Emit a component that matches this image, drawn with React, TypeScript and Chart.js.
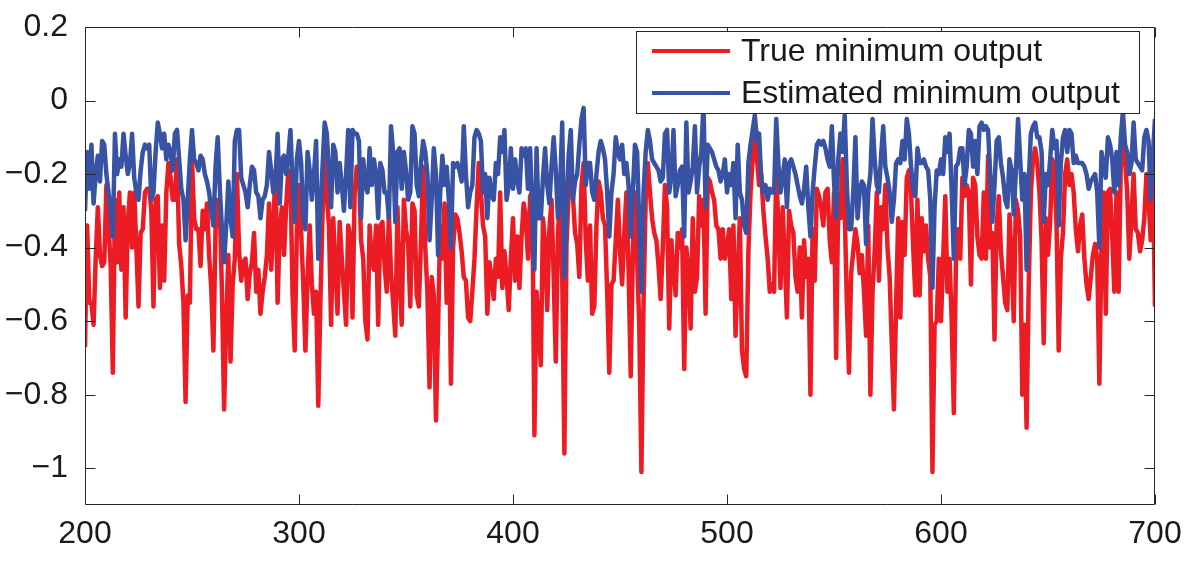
import React, { useEffect, useRef } from 'react';
import { Chart, registerables } from 'chart.js';

Chart.register(...registerables);

const X_START = 200;
const xTicks = [200, 300, 400, 500, 600, 700];
const yTicks = [-1, -0.8, -0.6, -0.4, -0.2, 0, 0.2];
const seriesLabels = ['True minimum output', 'Estimated minimum output'];
const seriesColors = ['#EC1C24', '#3953A4'];

// True minimum output, x = 200 ... 700
const trueMin = [
  -0.67, -0.34, -0.55, -0.55, -0.61, -0.43, -0.29, -0.42, -0.45, -0.44,
  -0.23, -0.34, -0.45, -0.74, -0.27, -0.44, -0.25, -0.46, -0.29, -0.59,
  -0.33, -0.25, -0.40, -0.25, -0.40, -0.56, -0.36, -0.35, -0.25, -0.24,
  -0.24, -0.30, -0.56, -0.27, -0.26, -0.51, -0.34, -0.49, -0.25, -0.17,
  -0.21, -0.27, -0.27, -0.16, -0.39, -0.45, -0.55, -0.82, -0.53, -0.55,
  -0.16, -0.32, -0.35, -0.35, -0.45, -0.30, -0.35, -0.28, -0.42, -0.51,
  -0.68, -0.35, -0.27, -0.30, -0.52, -0.84, -0.60, -0.42, -0.71, -0.50,
  -0.43, -0.20, -0.41, -0.49, -0.44, -0.43, -0.54, -0.47, -0.44, -0.36,
  -0.52, -0.46, -0.58, -0.52, -0.48, -0.42, -0.28, -0.46, -0.34, -0.19,
  -0.55, -0.35, -0.29, -0.42, -0.29, -0.19, -0.20, -0.53, -0.68, -0.35,
  -0.23, -0.36, -0.50, -0.68, -0.48, -0.34, -0.50, -0.58, -0.52, -0.83,
  -0.55, -0.31, -0.12, -0.26, -0.34, -0.61, -0.32, -0.45, -0.58, -0.33,
  -0.43, -0.52, -0.61, -0.34, -0.37, -0.59, -0.25, -0.18, -0.19, -0.38,
  -0.43, -0.60, -0.65, -0.34, -0.43, -0.46, -0.34, -0.61, -0.34, -0.33,
  -0.45, -0.52, -0.31, -0.47, -0.55, -0.64, -0.29, -0.48, -0.61, -0.27,
  -0.35, -0.39, -0.56, -0.28, -0.30, -0.53, -0.56, -0.38, -0.18, -0.40,
  -0.52, -0.78, -0.48, -0.53, -0.87, -0.61, -0.34, -0.43, -0.28, -0.55,
  -0.29, -0.77, -0.40, -0.31, -0.32, -0.36, -0.41, -0.48, -0.49, -0.59,
  -0.60, -0.52, -0.43, -0.29, -0.17, -0.25, -0.34, -0.37, -0.58, -0.44,
  -0.48, -0.54, -0.43, -0.48, -0.25, -0.51, -0.41, -0.48, -0.57, -0.43,
  -0.32, -0.49, -0.37, -0.51, -0.37, -0.28, -0.32, -0.43, -0.26, -0.25,
  -0.91, -0.52, -0.61, -0.72, -0.32, -0.39, -0.57, -0.35, -0.27, -0.48,
  -0.71, -0.36, -0.27, -0.48, -0.96, -0.39, -0.25, -0.16, -0.26, -0.36,
  -0.39, -0.48, -0.23, -0.17, -0.38, -0.49, -0.34, -0.58, -0.56, -0.34,
  -0.22, -0.25, -0.32, -0.34, -0.52, -0.74, -0.50, -0.49, -0.38, -0.27,
  -0.41, -0.50, -0.36, -0.25, -0.46, -0.75, -0.41, -0.25, -0.43, -0.61,
  -1.01, -0.55, -0.27, -0.17, -0.25, -0.32, -0.36, -0.38, -0.45, -0.54,
  -0.40, -0.23, -0.29, -0.62, -0.38, -0.46, -0.53, -0.36, -0.40, -0.35,
  -0.73, -0.40, -0.46, -0.62, -0.32, -0.52, -0.48, -0.26, -0.34, -0.27,
  -0.58, -0.21, -0.22, -0.25, -0.27, -0.34, -0.35, -0.43, -0.35, -0.43,
  -0.40, -0.35, -0.54, -0.34, -0.64, -0.47, -0.32, -0.68, -0.73, -0.75,
  -0.41, -0.25, -0.16, -0.09, -0.16, -0.23, -0.20, -0.30, -0.37, -0.43,
  -0.52, -0.50, -0.52, -0.19, -0.34, -0.51, -0.29, -0.43, -0.59, -0.30,
  -0.34, -0.36, -0.48, -0.52, -0.40, -0.59, -0.38, -0.48, -0.43, -0.80,
  -0.35, -0.49, -0.24, -0.26, -0.29, -0.34, -0.25, -0.24, -0.38, -0.44,
  -0.25, -0.70, -0.26, -0.32, -0.16, -0.30, -0.55, -0.74, -0.47, -0.41,
  -0.35, -0.39, -0.47, -0.42, -0.52, -0.64, -0.34, -0.80, -0.52, -0.41,
  -0.25, -0.49, -0.29, -0.35, -0.23, -0.40, -0.48, -0.66, -0.84, -0.56,
  -0.32, -0.59, -0.33, -0.42, -0.21, -0.19, -0.25, -0.40, -0.53, -0.27,
  -0.53, -0.32, -0.41, -0.34, -0.43, -0.48, -1.01, -0.61, -0.60, -0.43,
  -0.60, -0.43, -0.26, -0.52, -0.43, -0.60, -0.85, -0.43, -0.35, -0.43,
  -0.21, -0.26, -0.23, -0.25, -0.50, -0.21, -0.23, -0.37, -0.42, -0.43,
  -0.25, -0.43, -0.15, -0.40, -0.36, -0.65, -0.34, -0.26, -0.41, -0.48,
  -0.55, -0.57, -0.31, -0.43, -0.60, -0.27, -0.30, -0.37, -0.80, -0.61,
  -0.89, -0.50, -0.25, -0.16, -0.13, -0.17, -0.25, -0.38, -0.66, -0.32,
  -0.42, -0.33, -0.16, -0.19, -0.34, -0.68, -0.43, -0.36, -0.20, -0.16,
  -0.23, -0.20, -0.25, -0.35, -0.41, -0.34, -0.31, -0.43, -0.50, -0.54,
  -0.48, -0.42, -0.39, -0.43, -0.77, -0.39, -0.25, -0.58, -0.25, -0.24,
  -0.37, -0.52, -0.25, -0.52, -0.18, -0.08, -0.16, -0.25, -0.43, -0.32,
  -0.20, -0.35, -0.36, -0.41, -0.38, -0.32, -0.20, -0.27, -0.38, -0.20,
  -0.56,
];

// Estimated minimum output, x = 200 ... 700
const estMin = [
  -0.30, -0.14, -0.24, -0.12, -0.28, -0.20, -0.15, -0.22, -0.11, -0.12,
  -0.20, -0.25, -0.30, -0.37, -0.09, -0.20, -0.16, -0.18, -0.09, -0.15,
  -0.20, -0.17, -0.09, -0.21, -0.25, -0.27, -0.19, -0.14, -0.12, -0.13,
  -0.12, -0.27, -0.25, -0.14, -0.06, -0.09, -0.13, -0.09, -0.16, -0.12,
  -0.14, -0.19, -0.09, -0.08, -0.16, -0.24, -0.27, -0.38, -0.27, -0.16,
  -0.08, -0.16, -0.17, -0.19, -0.15, -0.16, -0.20, -0.22, -0.25, -0.30,
  -0.34, -0.18, -0.10, -0.24, -0.35, -0.44, -0.34, -0.22, -0.32, -0.37,
  -0.11, -0.08, -0.08, -0.21, -0.23, -0.25, -0.29, -0.23, -0.18, -0.19,
  -0.25, -0.26, -0.32, -0.27, -0.26, -0.23, -0.14, -0.19, -0.25, -0.22,
  -0.09, -0.28, -0.16, -0.15, -0.20, -0.15, -0.08, -0.23, -0.33, -0.16,
  -0.11, -0.17, -0.32, -0.35, -0.14, -0.19, -0.27, -0.20, -0.11, -0.43,
  -0.30, -0.18, -0.06, -0.09, -0.20, -0.29, -0.12, -0.14, -0.25, -0.17,
  -0.23, -0.30, -0.20, -0.08, -0.29, -0.08, -0.09, -0.09, -0.11, -0.32,
  -0.16, -0.23, -0.25, -0.13, -0.23, -0.16, -0.20, -0.32, -0.17, -0.19,
  -0.25, -0.25, -0.32, -0.07, -0.14, -0.33, -0.14, -0.13, -0.24, -0.14,
  -0.19, -0.27, -0.25, -0.07, -0.09, -0.23, -0.26, -0.17, -0.11, -0.14,
  -0.20, -0.38, -0.27, -0.13, -0.20, -0.42, -0.25, -0.15, -0.23, -0.18,
  -0.27, -0.40, -0.17, -0.18, -0.17, -0.19, -0.22, -0.07, -0.20, -0.29,
  -0.25, -0.23, -0.10, -0.08, -0.09, -0.11, -0.25, -0.20, -0.32, -0.21,
  -0.26, -0.27, -0.17, -0.20, -0.10, -0.14, -0.08, -0.27, -0.23, -0.13,
  -0.24, -0.16, -0.22, -0.25, -0.13, -0.15, -0.13, -0.24, -0.13, -0.30,
  -0.46, -0.13, -0.32, -0.32, -0.21, -0.13, -0.23, -0.28, -0.18, -0.10,
  -0.19, -0.32, -0.24, -0.06, -0.48, -0.29, -0.15, -0.08, -0.27, -0.22,
  -0.20, -0.12, -0.05, -0.02, -0.23, -0.17, -0.17, -0.25, -0.27, -0.20,
  -0.14, -0.11, -0.13, -0.16, -0.25, -0.37, -0.25, -0.20, -0.10, -0.14,
  -0.16, -0.12, -0.20, -0.17, -0.23, -0.37, -0.25, -0.12, -0.14, -0.34,
  -0.52, -0.25, -0.14, -0.08, -0.11, -0.16, -0.17, -0.18, -0.19, -0.22,
  -0.21, -0.09, -0.08, -0.25, -0.21, -0.08, -0.26, -0.23, -0.19, -0.18,
  -0.37, -0.06, -0.25, -0.22, -0.18, -0.07, -0.25, -0.18, -0.14, -0.01,
  -0.29, -0.12, -0.13, -0.14, -0.16, -0.18, -0.19, -0.22, -0.20, -0.16,
  -0.25, -0.20, -0.23, -0.17, -0.32, -0.12, -0.25, -0.27, -0.34, -0.36,
  -0.17, -0.12, -0.08, -0.04, -0.11, -0.09, -0.21, -0.25, -0.23, -0.27,
  -0.24, -0.25, -0.25, -0.05, -0.17, -0.25, -0.21, -0.16, -0.29, -0.17,
  -0.16, -0.18, -0.20, -0.23, -0.26, -0.28, -0.24, -0.18, -0.29, -0.37,
  -0.25, -0.18, -0.12, -0.11, -0.12, -0.11, -0.13, -0.16, -0.18, -0.07,
  -0.22, -0.32, -0.16, -0.09, -0.14, -0.04, -0.23, -0.35, -0.35, -0.25,
  -0.10, -0.32, -0.25, -0.22, -0.23, -0.39, -0.25, -0.20, -0.05, -0.16,
  -0.23, -0.25, -0.15, -0.07, -0.18, -0.21, -0.25, -0.33, -0.27, -0.17,
  -0.16, -0.17, -0.11, -0.16, -0.05, -0.09, -0.18, -0.24, -0.26, -0.13,
  -0.17, -0.17, -0.16, -0.18, -0.19, -0.27, -0.51, -0.29, -0.19, -0.20,
  -0.16, -0.20, -0.10, -0.14, -0.09, -0.25, -0.43, -0.18, -0.17, -0.13,
  -0.13, -0.23, -0.18, -0.08, -0.09, -0.18, -0.11, -0.20, -0.07, -0.06,
  -0.08, -0.07, -0.08, -0.20, -0.33, -0.23, -0.11, -0.10, -0.17, -0.21,
  -0.27, -0.29, -0.16, -0.19, -0.31, -0.19, -0.05, -0.16, -0.27, -0.20,
  -0.46, -0.22, -0.09, -0.07, -0.06, -0.10, -0.10, -0.14, -0.33, -0.20,
  -0.23, -0.16, -0.08, -0.13, -0.11, -0.34, -0.17, -0.10, -0.08, -0.14,
  -0.08, -0.09, -0.17, -0.15, -0.17, -0.17, -0.17, -0.18, -0.20, -0.24,
  -0.22, -0.21, -0.20, -0.25, -0.40, -0.14, -0.18, -0.21, -0.10, -0.12,
  -0.16, -0.25, -0.14, -0.23, -0.10, -0.03, -0.12, -0.14, -0.20, -0.17,
  -0.06, -0.16, -0.17, -0.18, -0.19, -0.10, -0.08, -0.11, -0.27, -0.15,
  -0.05,
];

const FONT = '"Liberation Sans", Arial, Helvetica, sans-serif';
const AXIS_COLOR = '#262626';

const fmt = (v: number) => (v < 0 ? '\u2212' : '') + String(Math.abs(v));

const framePlugin = {
  id: 'matlabFrame',
  afterDraw(chart: any) {
    const { ctx, chartArea: a, scales } = chart;
    ctx.save();
    ctx.strokeStyle = AXIS_COLOR;
    ctx.lineWidth = 1;
    const L = Math.round(a.left) + 0.5;
    const R = Math.round(a.right) - 0.5;
    const T = Math.round(a.top) + 0.5;
    const B = Math.round(a.bottom) - 0.5;
    ctx.beginPath();
    ctx.rect(L, T, R - L, B - T);
    const tl = 10;
    xTicks.forEach((v) => {
      const px = Math.round(scales.x.getPixelForValue(v)) + 0.5;
      ctx.moveTo(px, B);
      ctx.lineTo(px, B - tl);
      ctx.moveTo(px, T);
      ctx.lineTo(px, T + tl);
    });
    yTicks.forEach((v) => {
      const py = Math.round(scales.y.getPixelForValue(v)) + 0.5;
      ctx.moveTo(L, py);
      ctx.lineTo(L + tl, py);
      ctx.moveTo(R, py);
      ctx.lineTo(R - tl, py);
    });
    ctx.stroke();

    // legend box
    const lx = 636.5, ly = 31.5, lw = 503, lh = 82;
    ctx.fillStyle = '#ffffff';
    ctx.fillRect(lx, ly, lw, lh);
    ctx.strokeStyle = AXIS_COLOR;
    ctx.strokeRect(lx, ly, lw, lh);
    const rows = [51, 93];
    ctx.font = `32px ${FONT}`;
    ctx.textBaseline = 'middle';
    ctx.textAlign = 'left';
    rows.forEach((ry, i) => {
      ctx.strokeStyle = seriesColors[i];
      ctx.lineWidth = 4;
      ctx.beginPath();
      ctx.moveTo(652, ry);
      ctx.lineTo(730, ry);
      ctx.stroke();
      ctx.fillStyle = '#1a1a1a';
      ctx.fillText(seriesLabels[i], 741, ry + 1);
    });
    ctx.restore();
  },
};

export default function App() {
  const ref = useRef<HTMLCanvasElement | null>(null);

  useEffect(() => {
    if (!ref.current) return;
    const toPts = (arr: number[]) => arr.map((y, i) => ({ x: X_START + i, y }));
    const chart = new Chart(ref.current, {
      type: 'line',
      data: {
        datasets: [
          {
            label: seriesLabels[0],
            data: toPts(trueMin),
            borderColor: seriesColors[0],
            backgroundColor: seriesColors[0],
            borderWidth: 4.5,
            pointRadius: 0,
            tension: 0,
            borderJoinStyle: 'round',
            order: 1,
          },
          {
            label: seriesLabels[1],
            data: toPts(estMin),
            borderColor: seriesColors[1],
            backgroundColor: seriesColors[1],
            borderWidth: 4.5,
            pointRadius: 0,
            tension: 0,
            borderJoinStyle: 'round',
            order: 0,
          },
        ],
      },
      options: {
        animation: false,
        responsive: true,
        maintainAspectRatio: false,
        layout: { padding: { left: 0, right: 45, top: 27, bottom: 0 } },
        plugins: { legend: { display: false }, tooltip: { enabled: false } },
        scales: {
          x: {
            type: 'linear',
            min: 200,
            max: 700,
            grid: { display: false, drawTicks: false },
            border: { display: false },
            afterBuildTicks: (axis: any) => {
              axis.ticks = xTicks.map((v) => ({ value: v }));
            },
            afterFit: (axis: any) => {
              axis.height = 65;
              axis.paddingLeft = 0;
              axis.paddingRight = 0;
            },
            ticks: {
              padding: 10,
              maxRotation: 0,
              autoSkip: false,
              color: '#1a1a1a',
              font: { family: FONT, size: 32 },
              callback: (v: any) => fmt(Number(v)),
            },
          },
          y: {
            type: 'linear',
            min: -1.1,
            max: 0.2,
            grid: { display: false, drawTicks: false },
            border: { display: false },
            afterBuildTicks: (axis: any) => {
              axis.ticks = yTicks.map((v) => ({ value: v }));
            },
            afterFit: (axis: any) => {
              axis.width = 85;
              axis.paddingTop = 0;
              axis.paddingBottom = 0;
            },
            ticks: {
              padding: 17,
              autoSkip: false,
              color: '#1a1a1a',
              font: { family: FONT, size: 32 },
              callback: (v: any) => fmt(Number(v)),
            },
          },
        },
      },
      plugins: [framePlugin],
    });
    return () => chart.destroy();
  }, []);

  return (
    <div style={{ position: 'fixed', left: 0, top: 0, width: 1200, height: 570, background: '#fff' }}>
      <canvas ref={ref} />
    </div>
  );
}
